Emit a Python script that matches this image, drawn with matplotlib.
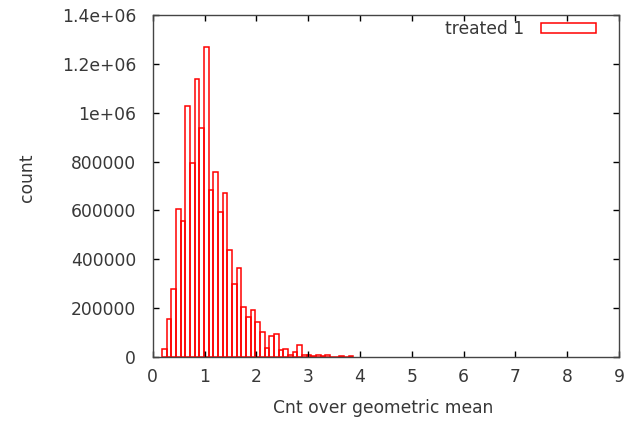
import numpy as np
import matplotlib
matplotlib.use("Agg")
import matplotlib.pyplot as plt
from matplotlib.patches import Patch

# histogram of cnt / geometric mean, bins of width 0.09 over [0, 9]
bin_width = 0.09
first_bin = 2  # bins 0 and 1 are empty
counts = [31000, 154000, 278000, 604000, 555000, 1028000, 795000, 1138000, 939000, 1267000,
          683000, 758000, 594000, 673000, 440000, 299000, 366000, 206000, 162000, 192000,
          145000, 104000, 35000, 88000, 93000, 28000, 33000, 8000, 21000, 48000,
          8000, 8000, 4000, 8000, 4000, 8000, 0, 0, 4000, 0, 4000]
series_label = "treated 1"
xticks = [0, 1, 2, 3, 4, 5, 6, 7, 8, 9]
yticks = [0, 200000, 400000, 600000, 800000, 1000000, 1200000, 1400000]
ytick_labels = ["0", "200000", "400000", "600000", "800000", "1e+06", "1.2e+06", "1.4e+06"]

plt.rcParams['font.family'] = ['DejaVu Sans']
plt.rcParams['font.size'] = 12.3
text_color = '#383838'

fig = plt.figure(figsize=(6.42, 4.22), dpi=100)
ax = fig.add_axes([0.2379, 0.154, 0.7263, 0.8105])

left_edges = (np.arange(len(counts)) + first_bin) * bin_width
ax.bar(left_edges, counts, width=bin_width, align='edge', fill=False,
       edgecolor='#ff0000', linewidth=1.1)

ax.set_xlim(0, 9)
ax.set_ylim(0, 1400000)
ax.set_xticks(xticks)
ax.set_xticklabels([str(t) for t in xticks])
ax.set_yticks(yticks)
ax.set_yticklabels(ytick_labels)

ax.tick_params(direction='in', length=4, width=1, top=True, right=True, colors='black')
ax.tick_params(axis='x', pad=8, labelcolor=text_color)
ax.tick_params(axis='y', pad=12, labelcolor=text_color)
for s in ax.spines.values():
    s.set_color('#444444')
    s.set_linewidth(1.0)

ax.set_xlabel("Cnt over geometric mean", color=text_color)
ax.set_ylabel("count", color=text_color)
ax.xaxis.set_label_coords(0.494, -0.123)
ax.yaxis.set_label_coords(-0.251, 0.524)

handle = Patch(facecolor='none', edgecolor='#ff0000', linewidth=1.1, label=series_label)
leg = ax.legend(handles=[handle], loc='upper right', bbox_to_anchor=(0.950, 0.9845),
                frameon=False, markerfirst=False, borderpad=0, borderaxespad=0,
                handlelength=3.2, handleheight=0.56, handletextpad=1.0)
for t in leg.get_texts():
    t.set_color(text_color)

fig.savefig("out.png", dpi=100)
